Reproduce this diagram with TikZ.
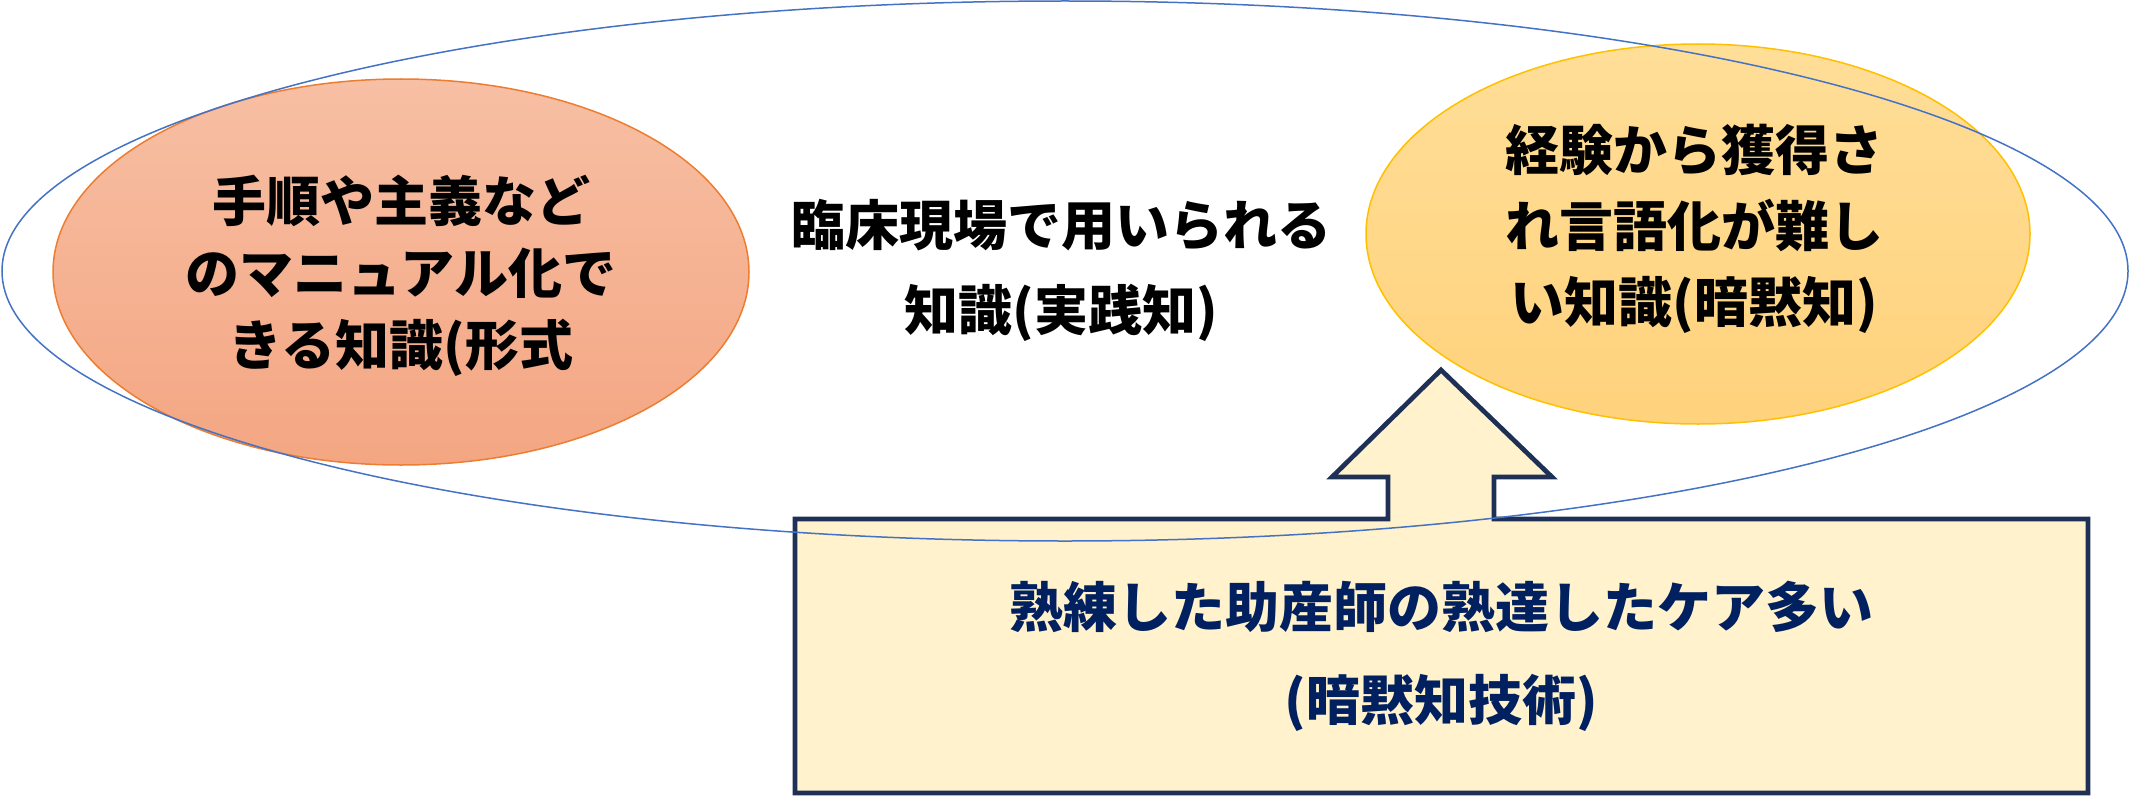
\documentclass[tikz,border=0pt]{standalone}
\usepackage{fontspec}
\newfontfamily\jpfont{Noto Sans CJK JP}
\definecolor{outerblue}{HTML}{4472C4}
\definecolor{formline}{HTML}{ED7D31}
\definecolor{formtop}{RGB}{247,191,164}
\definecolor{formbot}{RGB}{244,166,130}
\definecolor{tacitline}{HTML}{FFC000}
\definecolor{tacittop}{RGB}{255,222,152}
\definecolor{tacitbot}{RGB}{255,210,124}
\definecolor{skillline}{RGB}{31,48,86}
\definecolor{skillfill}{HTML}{FFF2CC}
\definecolor{skilltext}{HTML}{002060}
\begin{document}
\begin{tikzpicture}[x=0.5pt, y=-0.5pt,
  jp/.style={align=center, font=\jpfont\bfseries\fontsize{27pt}{#1}\selectfont}]
\useasboundingbox (0,0) rectangle (2130,797);

\draw[formline, line width=0.75pt, top color=formtop, bottom color=formbot] (401,272) ellipse (348 and 193);
\draw[tacitline, line width=0.75pt, top color=tacittop, bottom color=tacitbot] (1698,234) ellipse (332 and 190);

% box with the up arrow on top
\draw[skillline, line width=2.35pt, fill=skillfill, line join=miter]
  (795,519) -- (1388,519) -- (1388,477) -- (1332,477) -- (1441,370) -- (1552,477)
  -- (1494,477) -- (1494,519) -- (2088,519) -- (2088,793) -- (795,793) -- cycle;

\draw[outerblue, line width=0.75pt] (1065,271) ellipse (1063 and 270);

\node[jp=36pt] (formal) at (401,276) {手順や主義など\\のマニュアル化で\\きる知識(形式};
\node[jp=42.5pt] (practice) at (1061,270) {臨床現場で用いられる\\知識(実践知)};
\node[jp=38pt] (tacit) at (1694,229) {経験から獲得さ\\れ言語化が難し\\い知識(暗黙知)};
\node[jp=46.5pt, text=skilltext] (skill) at (1441,656) {熟練した助産師の熟達したケア多い\\(暗黙知技術)};
\end{tikzpicture}
\end{document}
